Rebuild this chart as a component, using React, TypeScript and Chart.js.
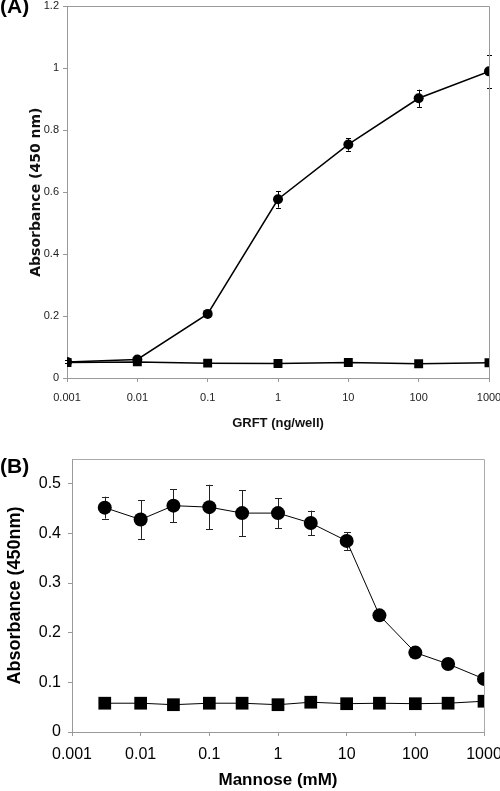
import React, { useEffect, useRef } from "react";
import { Chart, registerables } from "chart.js";

Chart.register(...registerables);

// ---------- Panel A data ----------
const grftDoses = [0.001, 0.01, 0.1, 1, 10, 100, 1000];
const grftCircle = [0.052, 0.06, 0.207, 0.577, 0.754, 0.903, 0.99];
const grftCircleErr = [0.005, 0.006, 0.01, 0.027, 0.02, 0.028, 0.054];
const grftSquare = [0.05, 0.052, 0.048, 0.047, 0.05, 0.046, 0.049];
const grftSquareErr = [0, 0, 0, 0, 0, 0, 0];
const grftXTicks = [0.001, 0.01, 0.1, 1, 10, 100, 1000];

// ---------- Panel B data ----------
const mannoseConc = [0.003, 0.01, 0.03, 0.1, 0.3, 1, 3, 10, 30, 100, 300, 1000];
const mannoseCircle = [0.452, 0.428, 0.456, 0.453, 0.441, 0.441, 0.421, 0.385, 0.235, 0.16, 0.137, 0.107];
const mannoseCircleErr = [0.022, 0.039, 0.033, 0.045, 0.046, 0.03, 0.025, 0.018, 0, 0, 0, 0];
const mannoseSquare = [0.058, 0.058, 0.055, 0.058, 0.058, 0.055, 0.06, 0.057, 0.058, 0.057, 0.058, 0.062];
const mannoseSquareErr = [0, 0, 0, 0, 0, 0, 0, 0, 0, 0, 0, 0];
const mannoseXTicks = [0.001, 0.01, 0.1, 1, 10, 100, 1000];
const mannoseYTicks = [0, 0.1, 0.2, 0.3, 0.4, 0.5];

const NARROW = "'Liberation Sans Narrow', 'Liberation Sans', Arial, sans-serif";
const ARIAL = "'Liberation Sans', Arial, sans-serif";

const errorBarPlugin = {
  id: "errorBars",
  beforeDatasetsDraw(chart: any, _args: any, opts: any) {
    const ctx = chart.ctx;
    const xs = chart.scales.x;
    const ys = chart.scales.y;
    ctx.save();
    ctx.strokeStyle = opts.color || "#000";
    ctx.lineWidth = opts.width || 1;
    const cap = opts.cap || 3;
    chart.data.datasets.forEach((ds: any) => {
      const errs: number[] = ds.errors || [];
      ds.data.forEach((p: any, i: number) => {
        const e = errs[i];
        if (!e) return;
        const px = Math.round(xs.getPixelForValue(p.x)) + 0.5;
        const top = ys.getPixelForValue(p.y + e);
        const bot = ys.getPixelForValue(p.y - e);
        ctx.beginPath();
        ctx.moveTo(px, top);
        ctx.lineTo(px, bot);
        ctx.moveTo(px - cap, Math.round(top) + 0.5);
        ctx.lineTo(px + cap, Math.round(top) + 0.5);
        ctx.moveTo(px - cap, Math.round(bot) + 0.5);
        ctx.lineTo(px + cap, Math.round(bot) + 0.5);
        ctx.stroke();
      });
    });
    ctx.restore();
  },
};

const boxPlugin = {
  id: "plotBox",
  afterDraw(chart: any, _args: any, opts: any) {
    const { left, right, top, bottom } = chart.chartArea;
    const ctx = chart.ctx;
    ctx.save();
    ctx.strokeStyle = opts.color || "#999";
    ctx.lineWidth = 1;
    ctx.beginPath();
    ctx.moveTo(Math.round(left) + 0.5, Math.round(top) + 0.5);
    ctx.lineTo(Math.round(right) + 0.5, Math.round(top) + 0.5);
    ctx.lineTo(Math.round(right) + 0.5, Math.round(bottom) + 0.5);
    ctx.stroke();
    ctx.restore();
  },
};

function pts(xs: number[], ys: number[]) {
  return xs.map((x, i) => ({ x, y: ys[i] }));
}

function fixX(h: number) {
  return (s: any) => {
    s.height = h;
    s.paddingLeft = 0;
    s.paddingRight = 0;
  };
}
function fixY(w: number) {
  return (s: any) => {
    s.width = w;
    s.paddingTop = 0;
    s.paddingBottom = 0;
  };
}

function makeA(canvas: HTMLCanvasElement) {
  return new Chart(canvas, {
    type: "line",
    data: {
      datasets: [
        {
          data: pts(grftDoses, grftSquare),
          errors: grftSquareErr,
          borderColor: "#000",
          backgroundColor: "#000",
          borderWidth: 1.5,
          pointStyle: "rect",
          pointRadius: 6.3,
          pointBorderWidth: 0,
        } as any,
        {
          data: pts(grftDoses, grftCircle),
          errors: grftCircleErr,
          borderColor: "#000",
          backgroundColor: "#000",
          borderWidth: 1.5,
          pointStyle: "circle",
          pointRadius: 5,
          pointBorderWidth: 0,
        } as any,
      ],
    },
    options: {
      responsive: false,
      animation: false,
      devicePixelRatio: 1,
      layout: { padding: { left: 0, top: 6, right: 11, bottom: 0 } },
      plugins: {
        legend: { display: false },
        tooltip: { enabled: false },
        errorBars: { color: "#000", width: 1, cap: 2.5 },
        plotBox: { color: "#999" },
      } as any,
      scales: {
        x: {
          type: "logarithmic",
          min: 0.001,
          max: 1000,
          afterBuildTicks: (s: any) => {
            s.ticks = grftXTicks.map((v) => ({ value: v }));
          },
          afterFit: fixX(54),
          border: { color: "#999", width: 1 },
          grid: { drawOnChartArea: false, drawTicks: true, tickLength: 4, color: "#999" },
          ticks: {
            autoSkip: false,
            maxRotation: 0,
            padding: 9,
            color: "#222",
            font: { family: NARROW, size: 11 },
            callback: (v: any) => String(v),
          },
          title: {
            display: true,
            text: "GRFT (ng/well)",
            color: "#111",
            font: { family: NARROW, size: 13, weight: "bold" },
            padding: { top: 0, bottom: 1 },
          },
        },
        y: {
          min: 0,
          max: 1.2,
          afterFit: fixY(67),
          border: { color: "#999", width: 1 },
          grid: { drawOnChartArea: false, drawTicks: true, tickLength: 4, color: "#999" },
          ticks: {
            stepSize: 0.2,
            padding: 4,
            color: "#222",
            font: { family: NARROW, size: 11 },
            callback: (v: any) => String(Math.round(v * 10) / 10),
          },
          title: {
            display: true,
            text: "Absorbance (450 nm)",
            color: "#111",
            font: { family: "'DejaVu Sans', sans-serif", size: 14, weight: "bold" },
            padding: { top: 28, bottom: 0 },
          },
        },
      },
    },
    plugins: [errorBarPlugin, boxPlugin],
  } as any);
}

function makeB(canvas: HTMLCanvasElement) {
  return new Chart(canvas, {
    type: "line",
    data: {
      datasets: [
        {
          data: pts(mannoseConc, mannoseSquare),
          errors: mannoseSquareErr,
          borderColor: "#000",
          backgroundColor: "#000",
          borderWidth: 1,
          pointStyle: "rect",
          pointRadius: 9,
          pointBorderWidth: 0,
        } as any,
        {
          data: pts(mannoseConc, mannoseCircle),
          errors: mannoseCircleErr,
          borderColor: "#000",
          backgroundColor: "#000",
          borderWidth: 1,
          pointStyle: "circle",
          pointRadius: 7,
          pointBorderWidth: 0,
        } as any,
      ],
    },
    options: {
      responsive: false,
      animation: false,
      devicePixelRatio: 1,
      layout: { padding: { left: 0, top: 27, right: 16, bottom: 0 } },
      plugins: {
        legend: { display: false },
        tooltip: { enabled: false },
        errorBars: { color: "#222", width: 1, cap: 3.5 },
        plotBox: { color: "#aaa" },
      } as any,
      scales: {
        x: {
          type: "logarithmic",
          min: 0.001,
          max: 1000,
          afterBuildTicks: (s: any) => {
            s.ticks = mannoseXTicks.map((v) => ({ value: v }));
          },
          afterFit: fixX(59),
          border: { color: "#999", width: 1 },
          grid: { drawOnChartArea: false, drawTicks: true, tickLength: 4, color: "#999" },
          ticks: {
            autoSkip: false,
            maxRotation: 0,
            padding: 9,
            color: "#000",
            font: { family: ARIAL, size: 16 },
            callback: (v: any) => String(v),
          },
          title: {
            display: true,
            text: "Mannose (mM)",
            color: "#000",
            font: { family: ARIAL, size: 17, weight: "bold" },
            padding: { top: 0, bottom: 0 },
          },
        },
        y: {
          min: 0,
          max: 0.55,
          afterBuildTicks: (s: any) => {
            s.ticks = mannoseYTicks.map((v) => ({ value: v }));
          },
          afterFit: fixY(72),
          border: { color: "#999", width: 1 },
          grid: { drawOnChartArea: false, drawTicks: true, tickLength: 4, color: "#999" },
          ticks: {
            padding: 7,
            color: "#000",
            font: { family: ARIAL, size: 16 },
            callback: (v: any) => String(Math.round(v * 10) / 10),
          },
          title: {
            display: true,
            text: "Absorbance (450nm)",
            color: "#000",
            font: { family: ARIAL, size: 18, weight: "bold" },
            padding: { top: 4, bottom: 0 },
          },
        },
      },
    },
    plugins: [errorBarPlugin, boxPlugin],
  } as any);
}

export default function App() {
  const refA = useRef<HTMLCanvasElement>(null);
  const refB = useRef<HTMLCanvasElement>(null);
  useEffect(() => {
    const a = makeA(refA.current!);
    const b = makeB(refB.current!);
    return () => {
      a.destroy();
      b.destroy();
    };
  }, []);
  const labelStyle: React.CSSProperties = {
    position: "absolute",
    left: 0,
    fontFamily: ARIAL,
    fontWeight: "bold",
    fontSize: 21,
    lineHeight: 1,
    color: "#000",
  };
  return (
    <div style={{ position: "absolute", left: 0, top: 0, width: 500, height: 791, background: "#fff", overflow: "hidden" }}>
      <canvas ref={refA} width={500} height={432} style={{ position: "absolute", left: 0, top: 0 }} />
      <canvas ref={refB} width={500} height={359} style={{ position: "absolute", left: 0, top: 432 }} />
      <div style={{ ...labelStyle, top: -5 }}>(A)</div>
      <div style={{ ...labelStyle, top: 455 }}>(B)</div>
    </div>
  );
}
